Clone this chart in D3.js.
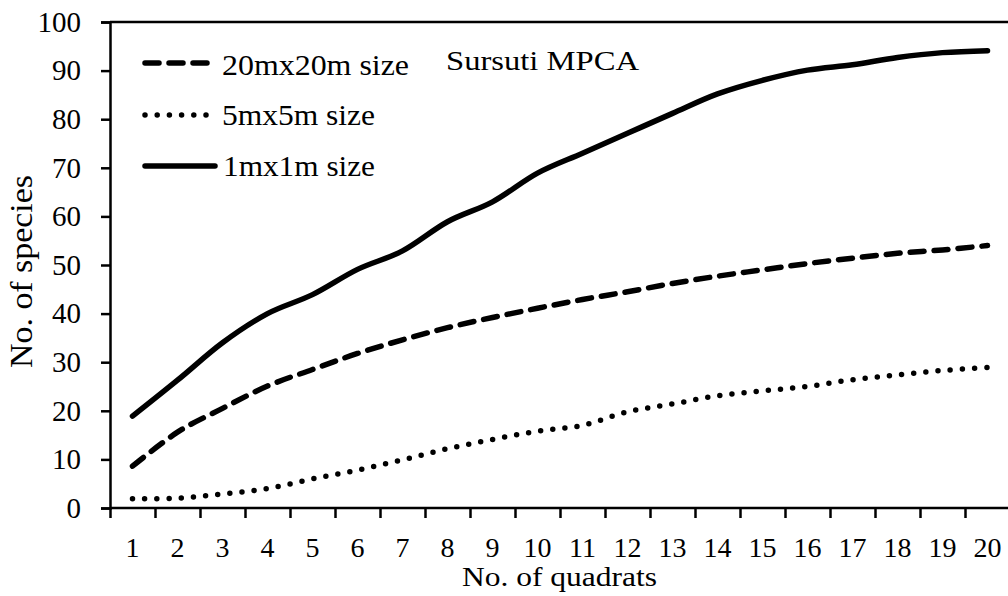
<!DOCTYPE html>
<html>
<head>
<meta charset="utf-8">
<script src="https://cdn.jsdelivr.net/npm/d3@7"></script>
<style>
  html, body { margin: 0; padding: 0; background: #fff; }
  svg text { font-family: "Liberation Serif", "Times New Roman", serif; fill: #000; }
</style>
</head>
<body>
<div id="chart"></div>
<script>
// Quadrat numbers along the x axis
const quadrats = d3.range(1, 21);

// Cumulative species counts
const size20m = [8.6, 15.6, 20.5, 25.1, 28.5, 31.8, 34.6, 37.1, 39.2, 41.1,
                 42.9, 44.5, 46.2, 47.7, 49, 50.3, 51.4, 52.4, 53.1, 54];
const size5m  = [1.9, 2, 2.9, 4, 6, 7.8, 9.9, 12.2, 14.1, 15.8,
                 17, 19.8, 21.4, 23.1, 24.1, 25, 26.4, 27.4, 28.3, 28.9];
const size1m  = [18.9, 26.3, 34, 40, 43.9, 49.1, 52.9, 58.9, 63, 68.9,
                 73, 77.1, 81.2, 85.2, 88, 90.1, 91.2, 92.7, 93.7, 94.1];

const yTicks = d3.range(0, 101, 10);
const seriesNames = ["20mx20m size", "5mx5m size", "1mx1m size"];
const chartTitle = "Sursuti MPCA";

const width = 1008, height = 596;
const plotLeft = 110, plotTop = 22, plotBottom = 508, bandW = 45;

const svg = d3.select("#chart").append("svg")
    .attr("width", width)
    .attr("height", height);

// x is a band per quadrat, y is species count
const x = d3.scaleBand().domain(quadrats).range([plotLeft, plotLeft + bandW * quadrats.length]);
const xEdge = d3.scaleLinear().domain([0, quadrats.length]).range([plotLeft, plotLeft + bandW * quadrats.length]);
const y = d3.scaleLinear().domain([0, 100]).range([plotBottom, plotTop]);

// top frame line
svg.append("line")
    .attr("x1", plotLeft).attr("x2", xEdge(quadrats.length))
    .attr("y1", y(100)).attr("y2", y(100))
    .attr("stroke", "#000").attr("stroke-width", 2.5);

// y axis
const yAxis = svg.append("g")
    .attr("transform", `translate(${plotLeft},0)`)
    .call(d3.axisLeft(y).tickValues(yTicks).tickSize(9).tickPadding(20));
yAxis.select(".domain").attr("stroke-width", 2.5);
yAxis.selectAll(".tick line").attr("stroke-width", 2.5);
yAxis.selectAll("text").attr("font-size", 29);

// x axis tick marks sit at band edges
const xTickAxis = svg.append("g")
    .attr("transform", `translate(0,${plotBottom})`)
    .call(d3.axisBottom(xEdge).tickValues(d3.range(0, quadrats.length + 1)).tickSize(10).tickFormat(""));
xTickAxis.select(".domain").attr("stroke-width", 2.5).attr("d", `M${plotLeft},0H${xEdge(quadrats.length)}`);
xTickAxis.selectAll(".tick line").attr("stroke-width", 2.5);

// x axis labels at band centres
const xAxis = svg.append("g")
    .attr("transform", `translate(0,${plotBottom})`)
    .call(d3.axisBottom(x).tickSize(0).tickPadding(29));
xAxis.select(".domain").remove();
xAxis.selectAll("text").attr("font-size", 28);

// axis titles
svg.append("text")
    .attr("x", 462).attr("y", 586)
    .attr("font-size", 28)
    .attr("textLength", 195)
    .attr("lengthAdjust", "spacingAndGlyphs")
    .text("No. of quadrats");

svg.append("text")
    .attr("transform", "translate(32,368) rotate(-90)")
    .attr("font-size", 31)
    .attr("textLength", 193)
    .attr("lengthAdjust", "spacingAndGlyphs")
    .text("No. of species");

// line styles per series
const styles = [
  {values: size20m, dash: "14,10"},
  {values: size5m, dash: "0,12.2"},
  {values: size1m, dash: null}
];

const line = d3.line()
    .x((d, i) => x(quadrats[i]) + x.bandwidth() / 2)
    .y(d => y(d))
    .curve(d3.curveCardinal.tension(0));

svg.append("g")
    .attr("fill", "none")
    .attr("stroke", "#000")
    .attr("stroke-width", 5.5)
    .attr("stroke-linecap", "round")
    .attr("stroke-linejoin", "round")
  .selectAll("path")
  .data(styles)
  .join("path")
    .attr("stroke-dasharray", d => d.dash)
    .attr("d", d => line(d.values));

// legend
const legendRows = [63, 115, 166];
const legendText = [
  {x: 222, w: 187, base: 75},
  {x: 222, w: 153, base: 125},
  {x: 223, w: 152, base: 176}
];
const legend = svg.append("g")
  .selectAll("g")
  .data(styles)
  .join("g");

legend.append("line")
    .attr("x1", 145).attr("x2", (d, i) => i === 2 ? 215 : 208)
    .attr("y1", (d, i) => legendRows[i]).attr("y2", (d, i) => legendRows[i])
    .attr("stroke", "#000")
    .attr("stroke-width", 5.5)
    .attr("stroke-linecap", "round")
    .attr("stroke-dasharray", d => d.dash);

legend.append("text")
    .attr("x", (d, i) => legendText[i].x)
    .attr("y", (d, i) => legendText[i].base)
    .attr("font-size", 29)
    .attr("textLength", (d, i) => legendText[i].w)
    .attr("lengthAdjust", "spacingAndGlyphs")
    .text((d, i) => seriesNames[i]);

svg.append("text")
    .attr("x", 446).attr("y", 70)
    .attr("font-size", 28)
    .attr("textLength", 193)
    .attr("lengthAdjust", "spacingAndGlyphs")
    .text(chartTitle);
</script>
</body>
</html>
